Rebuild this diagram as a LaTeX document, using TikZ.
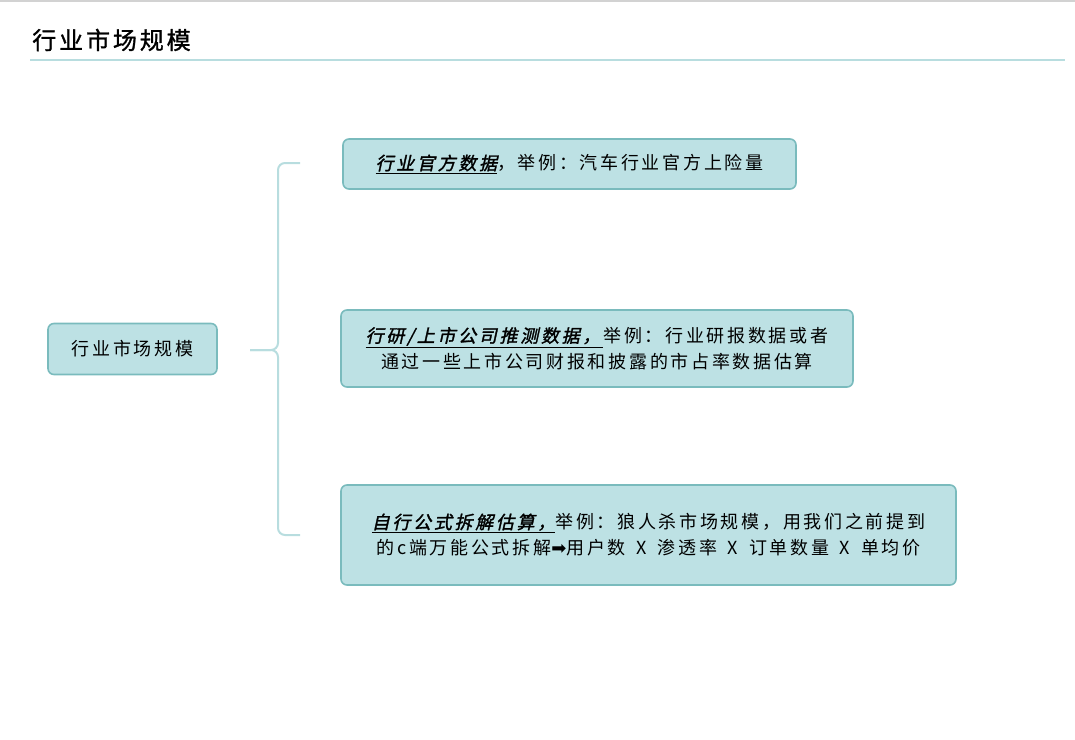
\documentclass[tikz,border=0pt]{standalone}
\usepackage{fontspec}
\setmainfont{Noto Sans CJK SC}
\newfontfamily\cjk[LetterSpace=15]{Noto Sans CJK SC}
\newfontfamily\cjkem[LetterSpace=15,FakeSlant=0.22,FakeBold=1.6]{Noto Sans CJK SC}
\newfontfamily\cjktitle[LetterSpace=12,FakeBold=1.2]{Noto Sans CJK SC}
\newfontfamily\symfont{DejaVu Sans}
\usetikzlibrary{positioning}

\definecolor{boxfill}{RGB}{189,225,228}
\definecolor{boxline}{RGB}{122,187,189}
\definecolor{bracecol}{RGB}{184,221,223}

\newcommand{\timesx}{\hspace{0.6em}X\hspace{0.6em}}

\begin{document}
\begin{tikzpicture}[
	x = 1pt, y = -1pt, % pixel grid, y downwards
	line join = round,
	semithick % line style
	]

	\tikzstyle{topic}=[
	draw = boxline,
	line width = 1.6pt,
	fill = boxfill,
	rounded corners = 6pt,
	align = center,
	font = \cjk\fontsize{18}{26}\selectfont
	]
	\tikzstyle{brace}=[
	draw = bracecol,
	line width = 2pt,
	rounded corners = 7pt
	]

	\useasboundingbox (0,0) rectangle (1075,739);

	% header
	\draw[gray!35, line width=1.2pt] (0,1) -- (1075,1);
	\node[anchor=west, inner sep=0pt, font=\cjktitle\fontsize{24}{28}\selectfont] (title) at (32,40) {行业市场规模};
	\draw[bracecol, line width=1.5pt] (30,60) -- (1065,60);

	\node[topic, minimum width=169pt, minimum height=51pt] (market) at (132.5,349) {行业市场规模};

	\node[topic, minimum width=453pt, minimum height=50pt] (official) at (569.5,164)
		{{\cjkem\underline{行业官方数据}}，举例：汽车行业官方上险量};
	\node[topic, minimum width=512pt, minimum height=77pt] (research) at (597,348.5)
		{{\cjkem\underline{行研/上市公司推测数据，\,}}举例：行业研报数据或者\\通过一些上市公司财报和披露的市占率数据估算};
	\node[topic, minimum width=615pt, minimum height=100pt] (formula) at (648.5,535)
		{{\cjkem\underline{自行公式拆解估算，}}举例：狼人杀市场规模，用我们之前提到\\的c端万能公式拆解{\symfont ➡}用户数\timesx 渗透率\timesx 订单数量\timesx 单均价};

	% brace
	\coordinate (bracemid) at (250,350);
	\coordinate (bracetop) at (300,163);
	\coordinate (bracebot) at (300,535);
	\draw[brace] (bracetop) -- (278,163) -- (278,350) -- (bracemid);
	\draw[brace] (bracebot) -- (278,535) -- (278,350) -- (bracemid);

\end{tikzpicture}
\end{document}
